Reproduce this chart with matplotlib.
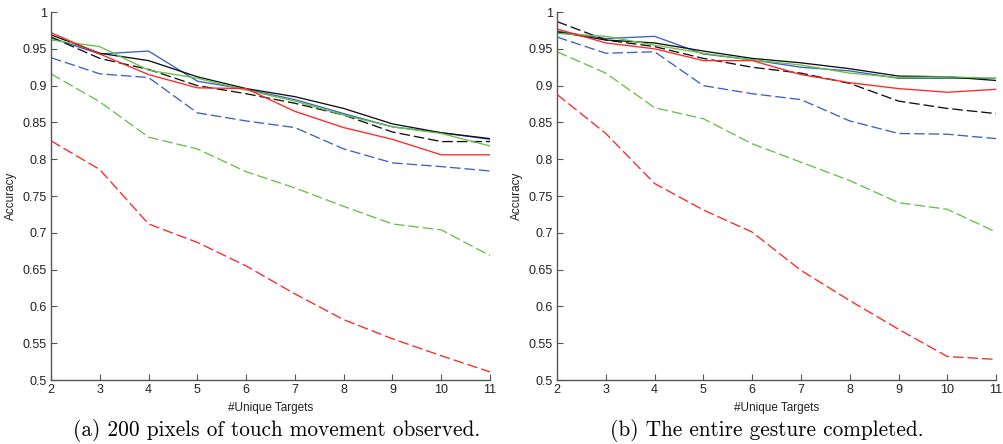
import matplotlib.pyplot as plt

# number of unique targets
targets = [2, 3, 4, 5, 6, 7, 8, 9, 10, 11]

# (a) 200 pixels of touch movement observed
a_blue_solid = [0.965, 0.943, 0.947, 0.906, 0.895, 0.881, 0.862, 0.844, 0.836, 0.827]
a_black_solid = [0.969, 0.944, 0.934, 0.912, 0.896, 0.885, 0.869, 0.848, 0.836, 0.828]
a_black_dash = [0.966, 0.937, 0.922, 0.900, 0.889, 0.876, 0.860, 0.837, 0.824, 0.824]
a_green_solid = [0.962, 0.953, 0.921, 0.910, 0.894, 0.879, 0.860, 0.844, 0.835, 0.818]
a_red_solid = [0.972, 0.943, 0.915, 0.897, 0.896, 0.865, 0.843, 0.827, 0.806, 0.806]
a_blue_dash = [0.938, 0.916, 0.911, 0.863, 0.852, 0.843, 0.814, 0.795, 0.790, 0.784]
a_green_dash = [0.916, 0.878, 0.830, 0.814, 0.783, 0.761, 0.736, 0.712, 0.704, 0.669]
a_red_dash = [0.825, 0.786, 0.712, 0.687, 0.655, 0.617, 0.582, 0.556, 0.533, 0.511]

# (b) the entire gesture completed
b_blue_solid = [0.974, 0.964, 0.967, 0.943, 0.935, 0.925, 0.920, 0.910, 0.910, 0.910]
b_black_solid = [0.973, 0.962, 0.958, 0.947, 0.937, 0.931, 0.923, 0.913, 0.912, 0.907]
b_black_dash = [0.987, 0.962, 0.953, 0.937, 0.925, 0.917, 0.903, 0.879, 0.869, 0.862]
b_green_solid = [0.971, 0.967, 0.955, 0.944, 0.935, 0.928, 0.917, 0.911, 0.912, 0.910]
b_red_solid = [0.977, 0.958, 0.950, 0.934, 0.934, 0.915, 0.904, 0.896, 0.891, 0.895]
b_blue_dash = [0.966, 0.944, 0.946, 0.900, 0.889, 0.881, 0.852, 0.835, 0.834, 0.828]
b_green_dash = [0.946, 0.917, 0.870, 0.855, 0.821, 0.796, 0.771, 0.741, 0.732, 0.701]
b_red_dash = [0.888, 0.835, 0.767, 0.731, 0.701, 0.649, 0.608, 0.569, 0.532, 0.528]

yticks = [0.5, 0.55, 0.6, 0.65, 0.7, 0.75, 0.8, 0.85, 0.9, 0.95, 1]
ytick_labels = ['0.5', '0.55', '0.6', '0.65', '0.7', '0.75', '0.8', '0.85', '0.9', '0.95', '1']

RED = '#ff2626'
BLUE = '#3a62c0'
GREEN = '#66c046'
BLACK = '#111111'
DASH = (0, (8, 3))

plt.rcParams['font.family'] = ['Liberation Sans', 'DejaVu Sans']

fig = plt.figure(figsize=(10.04, 4.44), dpi=100)
ax_a = fig.add_axes([0.0508, 0.1441, 0.4373, 0.8288])
ax_b = fig.add_axes([0.5548, 0.1441, 0.4373, 0.8288])

panels = [
    (ax_a, [a_blue_solid, a_black_solid, a_black_dash, a_green_solid, a_red_solid,
            a_blue_dash, a_green_dash, a_red_dash]),
    (ax_b, [b_blue_solid, b_black_solid, b_black_dash, b_green_solid, b_red_solid,
            b_blue_dash, b_green_dash, b_red_dash]),
]
styles = [(BLUE, '-'), (BLACK, '-'), (BLACK, DASH), (GREEN, '-'), (RED, '-'),
          (BLUE, DASH), (GREEN, DASH), (RED, DASH)]

for ax, series in panels:
    for vals, (col, ls) in zip(series, styles):
        ax.plot(targets, vals, color=col, linestyle=ls, linewidth=0.95)
    ax.set_xlim(2, 11)
    ax.set_ylim(0.5, 1)
    ax.set_xticks(targets)
    ax.set_yticks(yticks)
    ax.set_yticklabels(ytick_labels)
    ax.spines['top'].set_visible(False)
    ax.spines['right'].set_visible(False)
    for s in ['left', 'bottom']:
        ax.spines[s].set_color('#555555')
        ax.spines[s].set_linewidth(1.0)
    ax.tick_params(direction='in', length=4, width=0.8, color='#555555',
                   labelsize=9, labelcolor='#222222', pad=3)
    ax.set_xlabel('#Unique Targets', fontsize=8.5, color='#222222', labelpad=4)
    ax.set_ylabel('Accuracy', fontsize=8.5, color='#222222', labelpad=4)

fig.text(0.2756, 0.018, '(a) 200 pixels of touch movement observed.',
         ha='center', fontsize=15.3, family=['cmr10', 'DejaVu Serif'])
fig.text(0.7636, 0.018, '(b) The entire gesture completed.',
         ha='center', fontsize=15.3, family=['cmr10', 'DejaVu Serif'])

fig.savefig('out.png', dpi=100)
